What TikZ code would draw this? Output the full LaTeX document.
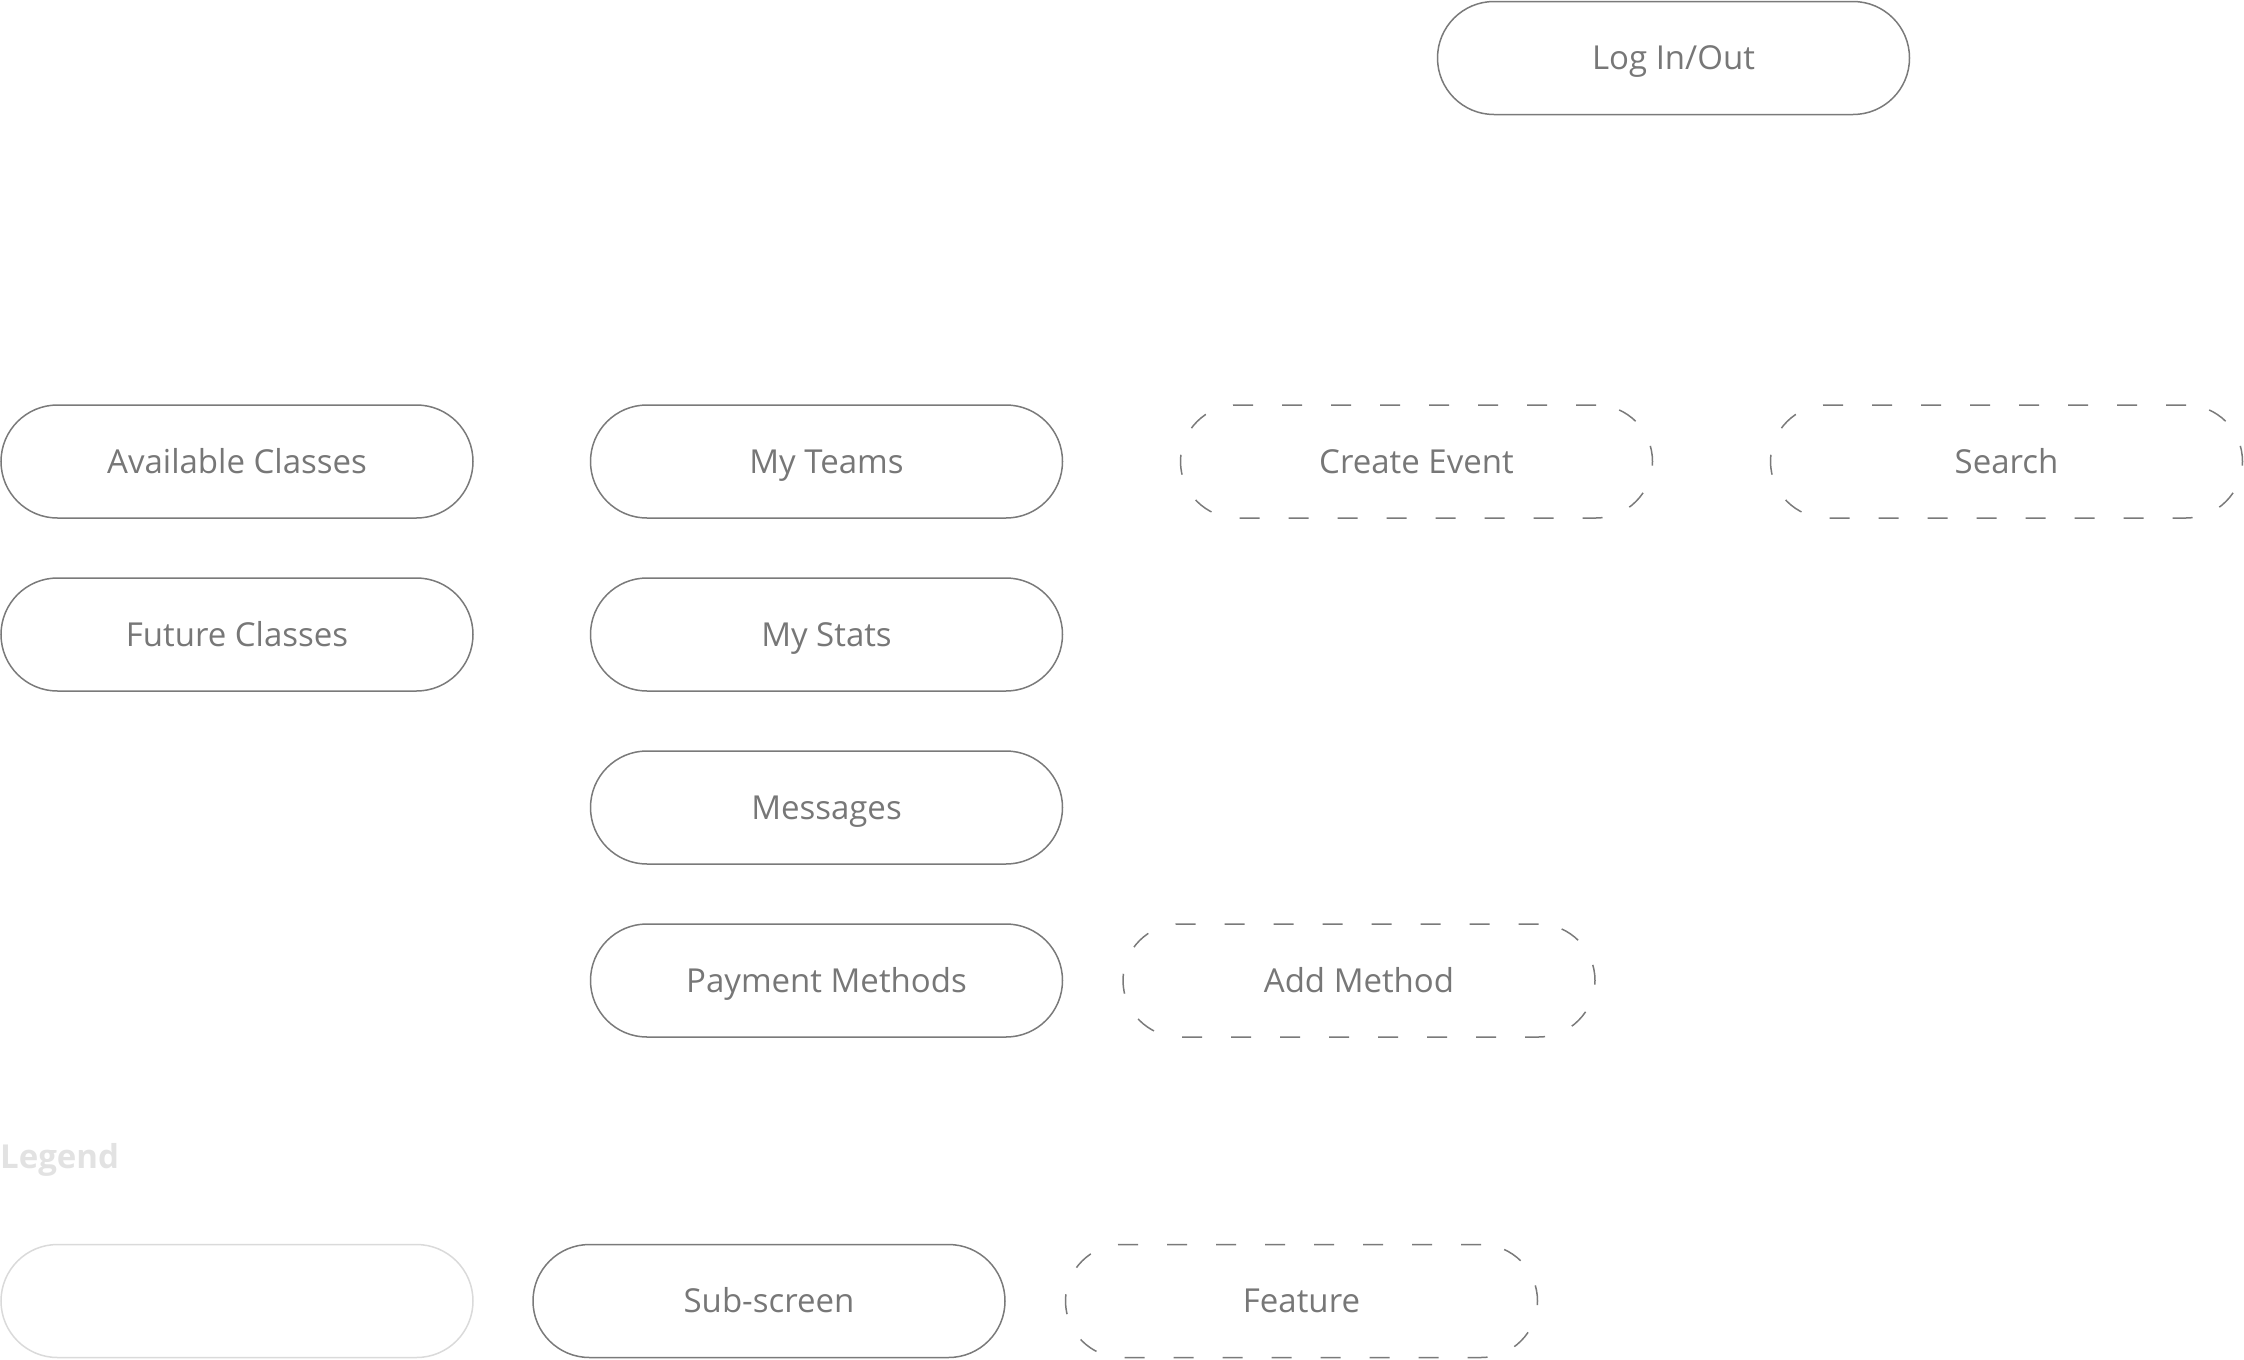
\documentclass[tikz,border=0pt]{standalone}
\usepackage{fontspec}
\setmainfont{Open Sans}
\definecolor{txt}{HTML}{777777}
\definecolor{edge}{HTML}{7A7A7A}
\definecolor{faint}{HTML}{DADADA}
\definecolor{legendtxt}{HTML}{E2E2E2}
\tikzset{
  pill/.style={draw=edge, line width=1.5pt, rounded corners=56.5pt, minimum width=472pt, minimum height=113pt, inner sep=0pt, text=txt, font=\fontsize{33}{40}\selectfont, text height=23.5pt, text depth=0pt},
  subpill/.style={pill},
  featpill/.style={pill, dash pattern=on 20pt off 29pt},
  blankpill/.style={pill, draw=faint},
}
\begin{document}
\begin{tikzpicture}[x=1pt,y=-1pt]
\useasboundingbox (0,0) rectangle (2244,1360);
\node[subpill] (login) at (1673.5,58) {Log In/Out};
\node[subpill] (avail) at (237,461.5) {Available Classes};
\node[subpill] (teams) at (826.5,461.5) {My Teams};
\node[featpill] (create) at (1416.5,461.5) {Create Event};
\node[featpill] (search) at (2006.5,461.5) {Search};
\node[subpill] (future) at (237,634.5) {Future Classes};
\node[subpill] (stats) at (826.5,634.5) {My Stats};
\node[subpill] (msgs) at (826.5,807.5) {Messages};
\node[subpill] (pay) at (826.5,980.5) {Payment Methods};
\node[featpill] (addm) at (1359,980.5) {Add Method};
\node[anchor=base west, inner sep=0pt, text=legendtxt, font=\fontsize{33}{40}\selectfont\bfseries] (legend) at (0,1168) {Legend};
\node[blankpill] (lgscreen) at (237,1301) {};
\node[subpill] (lgsub) at (769,1301) {Sub-screen};
\node[featpill] (lgfeat) at (1301.5,1301) {Feature};
\end{tikzpicture}
\end{document}
